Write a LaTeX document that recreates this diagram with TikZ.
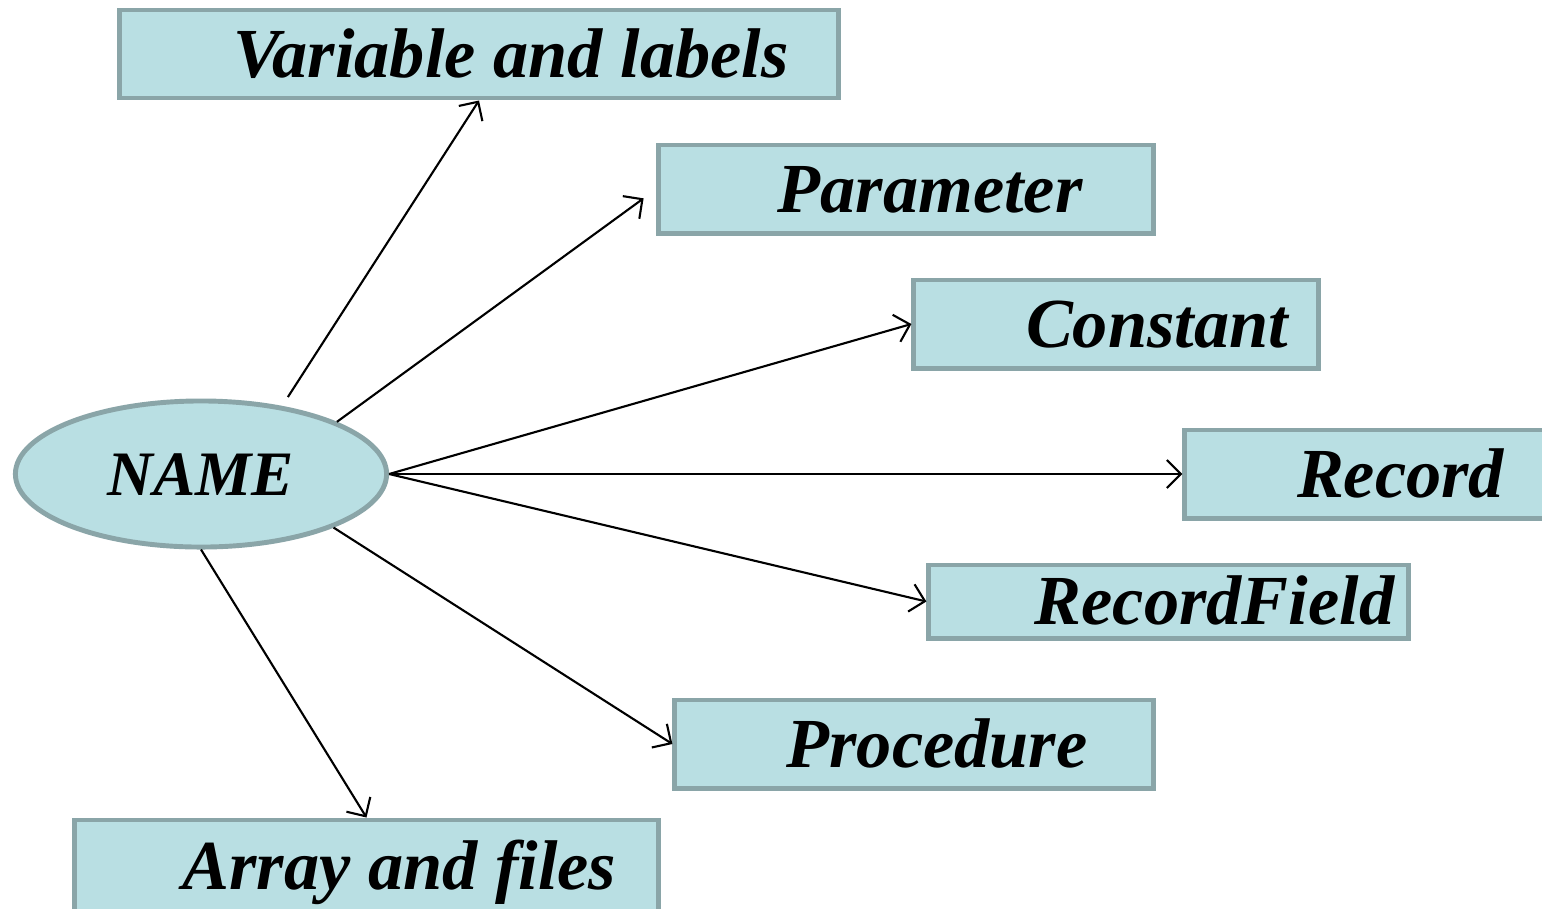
\documentclass[tikz,border=0pt]{standalone}
\usepackage{fontspec}
\setmainfont{Liberation Serif}
\usetikzlibrary{arrows.meta,shapes.geometric}
\definecolor{boxfill}{HTML}{B9DFE3}
\definecolor{boxframe}{HTML}{8AA5A8}

\begin{document}
\begin{tikzpicture}[
    x=0.01cm, y=-0.01cm,
    every node/.style={font=\bfseries\itshape\fontsize{20pt}{24pt}\selectfont},
    box/.style={
        rectangle,
        draw=boxframe,
        fill=boxfill,
        line width=1.4pt,
        minimum height=0.88cm,
        inner sep=0pt,
        text height=13.3pt,
        text depth=0pt
    },
    namenode/.style={
        ellipse,
        draw=boxframe,
        fill=boxfill,
        line width=1.4pt,
        minimum width=3.71cm,
        minimum height=1.46cm,
        inner sep=0pt,
        text height=12pt,
        text depth=0pt,
        font=\bfseries\itshape\fontsize{18pt}{22pt}\selectfont
    },
    arrow/.style={-{Straight Barb[length=1.4mm,width=2.8mm]}, line width=0.6pt}
]
    % page frame
    \path[use as bounding box, fill=white] (0,0) rectangle (1542,908);

    % === CENTRE ===
    \node[namenode] (name) at (201,474) {NAME};

    % === KINDS OF NAMES ===
    \node[box, minimum width=7.18cm] (var) at (479,54) {\hspace*{0.64cm}Variable and labels};
    \node[box, minimum width=4.94cm] (param) at (906,189) {\hspace*{0.48cm}Parameter};
    \node[box, minimum width=4.04cm] (const) at (1116,324) {\hspace*{0.82cm}Constant};
    \node[box, minimum width=3.75cm] (record) at (1372.5,474) {\hspace*{0.56cm}Record};
    \node[box, minimum width=4.79cm, minimum height=0.73cm] (field) at (1168.5,601.5) {\hspace*{0.92cm}RecordField};
    \node[box, minimum width=4.78cm] (proc) at (914,744) {\hspace*{0.46cm}Procedure};
    \node[box, minimum width=5.83cm, minimum height=0.92cm] (array) at (366.5,866) {\hspace*{0.66cm}Array and files};

    % === ARROWS ===
    \draw[arrow, shorten <=3pt] (name.40) -- (var.south);
    \draw[arrow, shorten >=4.5pt] (name.21) -- (param.west);
    \draw[arrow] (name.east) -- (const.west);
    \draw[arrow] (name.east) -- (record.west);
    \draw[arrow] (name.east) -- (field.west);
    \draw[arrow] (name.-22) -- (proc.west);
    \draw[arrow] (name.south) -- (array.north);
\end{tikzpicture}
\end{document}
